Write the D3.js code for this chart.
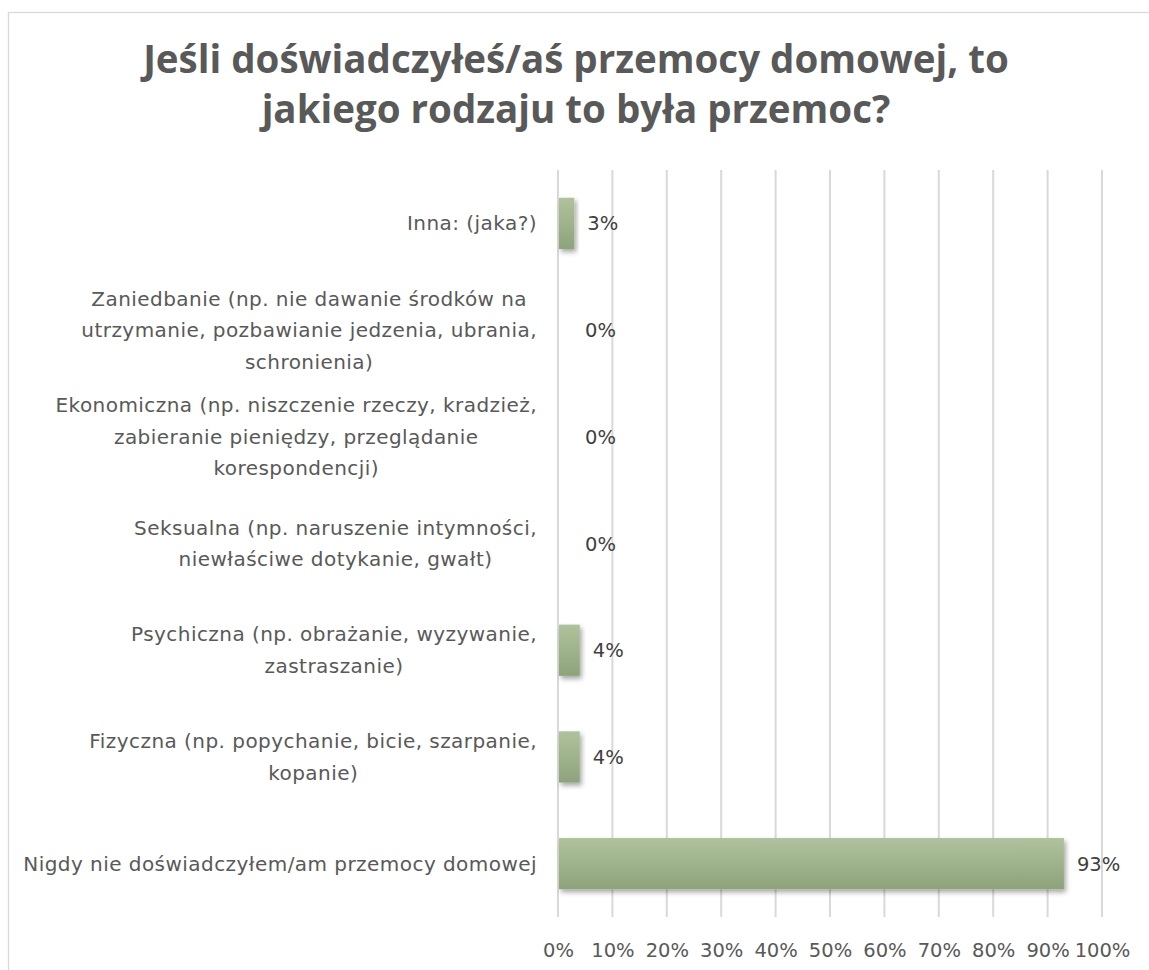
<!DOCTYPE html>
<html>
<head>
<meta charset="utf-8">
<script src="https://cdn.jsdelivr.net/npm/d3@7"></script>
<style>
  body { margin: 0; background: #fff; }
  svg { font-family: "DejaVu Sans", "Open Sans", sans-serif; }
</style>
</head>
<body>
<div id="chart"></div>
<script>
//Chart data
var titleLines = ["Jeśli doświadczyłeś/aś przemocy domowej, to", "jakiego rodzaju to była przemoc?"];

var categories = [
    ["Inna: (jaka?)"],
    ["Zaniedbanie (np. nie dawanie środków na", "utrzymanie, pozbawianie jedzenia, ubrania,", "schronienia)"],
    ["Ekonomiczna (np. niszczenie rzeczy, kradzież,", "zabieranie pieniędzy, przeglądanie", "korespondencji)"],
    ["Seksualna (np. naruszenie intymności,", "niewłaściwe dotykanie, gwałt)"],
    ["Psychiczna (np. obrażanie, wyzywanie,", "zastraszanie)"],
    ["Fizyczna (np. popychanie, bicie, szarpanie,", "kopanie)"],
    ["Nigdy nie doświadczyłem/am przemocy domowej"]
];
var values = [0.03, 0, 0, 0, 0.04, 0.04, 0.93];
var valueLabels = ["3%", "0%", "0%", "0%", "4%", "4%", "93%"];
var ticks = [0, 0.1, 0.2, 0.3, 0.4, 0.5, 0.6, 0.7, 0.8, 0.9, 1.0];

var width = 1149, height = 970;
var plotLeft = 558, plotRight = 1102, plotTop = 170, plotBottom = 917;

var svg = d3.select("#chart").append("svg").attr("width", width).attr("height", height)

//Outer chart border (right side runs off the page)
svg.append("rect").attr("x", 8.5).attr("y", 12.5).attr("width", 1160).attr("height", 980)
    .attr("fill", "#fff").attr("stroke", "#d9d9d9").attr("stroke-width", 1.3)

var defs = svg.append("defs")
var grad = defs.append("linearGradient").attr("id", "barGrad").attr("x1", 0).attr("y1", 0).attr("x2", 0).attr("y2", 1)
grad.append("stop").attr("offset", "0%").attr("stop-color", "#b0c29d")
grad.append("stop").attr("offset", "100%").attr("stop-color", "#8da37a")

var shadow = defs.append("filter").attr("id", "shadow").attr("x", "-20%").attr("y", "-20%").attr("width", "150%").attr("height", "150%")
shadow.append("feDropShadow").attr("dx", 2).attr("dy", 3).attr("stdDeviation", 2.5).attr("flood-color", "#000").attr("flood-opacity", 0.35)

//Title
svg.append("g").selectAll("text").data(titleLines).join("text")
    .attr("x", 576).attr("y", (d, i) => 73 + i * 50)
    .attr("text-anchor", "middle").attr("font-size", 38.5).attr("font-weight", 700).attr("fill", "#595959")
    .attr("font-family", "\"Open Sans\", sans-serif")
    .text(d => d)

var x = d3.scaleLinear().domain([0, 1]).range([plotLeft, plotRight])
var y = d3.scaleBand().domain(d3.range(categories.length)).range([plotTop, plotBottom]).paddingInner(0.52).paddingOuter(0.26)

//Gridlines
svg.append("g").selectAll("line").data(ticks).join("line")
    .attr("x1", d => x(d)).attr("x2", d => x(d)).attr("y1", plotTop).attr("y2", plotBottom)
    .attr("stroke", "#d9d9d9").attr("stroke-width", 2)

//X axis tick labels
var xAxis = d3.axisBottom(x).tickValues(ticks).tickFormat(d3.format(".0%")).tickSize(0).tickPadding(0)
var axisG = svg.append("g").attr("transform", "translate(0," + (plotBottom + 26) + ")").call(xAxis)
axisG.select(".domain").remove()
axisG.selectAll("text").attr("font-size", 19.5).attr("fill", "#595959").attr("font-family", "\"DejaVu Sans\", sans-serif")

//Bars
svg.append("g").selectAll("rect").data(values).join("rect")
    .attr("x", x(0) + 1).attr("y", (d, i) => y(i))
    .attr("width", d => Math.max(0, x(d) - x(0) - 1)).attr("height", y.bandwidth())
    .attr("fill", "url(#barGrad)").attr("filter", "url(#shadow)")
    .attr("display", d => d > 0 ? null : "none")

//Value labels
svg.append("g").selectAll("text").data(values).join("text")
    .attr("x", d => Math.max(x(d), x(0) + 14) + 13)
    .attr("y", (d, i) => y(i) + y.bandwidth() / 2 + 7)
    .attr("font-size", 19.5).attr("fill", "#404040")
    .text((d, i) => valueLabels[i])

//Category labels: each block is right aligned, lines centred inside the block
var labelRight = 537, lineH = 31.5
var catG = svg.append("g")
categories.forEach(function(lines, i)
{
    let cy = y(i) + y.bandwidth() / 2
    let g = catG.append("g")
    let texts = g.selectAll("text").data(lines).join("text")
        .attr("font-size", 20).attr("letter-spacing", 0.45).attr("fill", "#595959").attr("text-anchor", "middle")
        .attr("y", (d, k) => cy + (k - (lines.length - 1) / 2) * lineH + 7)
        .text(d => d)
    let maxW = 0
    texts.each(function() { maxW = Math.max(maxW, this.getComputedTextLength()) })
    texts.attr("x", labelRight - maxW / 2)
})
</script>
</body>
</html>
